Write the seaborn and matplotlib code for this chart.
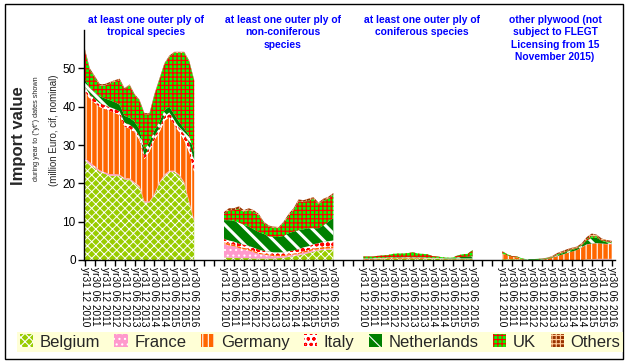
import numpy as np
import matplotlib
matplotlib.use("Agg")
import matplotlib.pyplot as plt
import matplotlib.patches as mpatches
import seaborn as sns

# Import value (million EUR), quarterly readings from Dec 2010 to Jun 2016
countries = ["Belgium", "France", "Germany", "Italy", "Netherlands", "UK", "Others"]
period_labels = ["yr31 12 2010", "yr30 06 2011", "yr31 12 2011", "yr30 06 2012",
                 "yr31 12 2012", "yr30 06 2013", "yr31 12 2013", "yr30 06 2014",
                 "yr31 12 2014", "yr30 06 2015", "yr31 12 2015", "yr30 06 2016"]
group_titles = ["at least one outer ply of\ntropical species",
                "at least one outer ply of\nnon-coniferous\nspecies",
                "at least one outer ply of\nconiferous species",
                "other plywood (not\nsubject to FLEGT\nLicensing from 15\nNovember 2015)"]

# tropical
trop_belgium = [26, 25, 24, 23, 22.5, 22, 22, 22, 21, 21, 20, 19, 15, 15, 17, 20, 22, 23, 23, 22, 20, 15, 10]
trop_france = [0.6, 0.5, 0.5, 0.4, 0.4, 0.4, 0.4, 0.3, 0.3, 0.3, 0.3, 0.3, 0.3, 0.3, 0.3, 0.3, 0.3, 0.3, 0.3, 0.3, 0.3, 0.3, 0.3]
trop_germany = [17.5, 16.5, 16.5, 16.5, 16.5, 16.5, 16, 15.5, 13.5, 13, 13, 12, 11, 13, 14, 13, 14, 14, 12, 11, 11, 12.7, 12.7]
trop_italy = [1.2, 1.2, 1, 1, 1, 1, 1, 1, 1, 1, 1, 1, 1, 1, 1, 1.2, 1.2, 1.2, 1.2, 1.2, 1.5, 2.5, 3]
trop_netherlands = [1.8, 1.8, 1.8, 1.8, 1.8, 1.8, 1.8, 1.8, 1.8, 1.8, 1.8, 1.8, 1.5, 1.5, 1.5, 1.5, 1.5, 1.5, 1.5, 1.5, 1.5, 2, 2]
trop_uk = [7.5, 4.6, 3.8, 2.8, 3.3, 4.3, 5.3, 6.3, 6.9, 8.4, 6.9, 7.4, 9.2, 7.2, 9.2, 11, 12, 13, 16, 18, 19.7, 19.2, 18.7]
trop_others = [0.5, 0.4, 0.4, 0.4, 0.4, 0.4, 0.4, 0.4, 0.3, 0.3, 0.3, 0.3, 0.3, 0.3, 0.3, 0.3, 0.3, 0.3, 0.3, 0.3, 0.3, 0.3, 0.3]

# non-coniferous
nonc_belgium = [0.7, 0.6, 0.6, 0.5, 0.5, 0.5, 0.4, 0.4, 0.4, 0.4, 0.4, 0.5, 0.6, 0.8, 1, 1.2, 1.5, 1.8, 2.2, 2.5, 2.6, 2.7, 2.8]
nonc_france = [3.5, 3.2, 3, 2.6, 2.3, 2, 1.6, 1.2, 1, 0.8, 0.6, 0.5, 0.4, 0.4, 0.4, 0.4, 0.4, 0.4, 0.4, 0.3, 0.3, 0.3, 0.3]
nonc_germany = [0.5, 0.5, 0.4, 0.4, 0.4, 0.4, 0.4, 0.3, 0.3, 0.3, 0.3, 0.3, 0.3, 0.3, 0.3, 0.3, 0.4, 0.4, 0.4, 0.4, 0.5, 0.5, 0.5]
nonc_italy = [0.8, 0.8, 0.8, 0.8, 0.8, 0.8, 0.8, 0.8, 0.7, 0.7, 0.7, 0.7, 0.7, 0.8, 0.8, 0.9, 1, 1, 1.1, 1.2, 1.3, 1.4, 1.5]
nonc_netherlands = [4.9, 5.3, 5.4, 5.5, 5.2, 5, 4.8, 4.6, 4.4, 4, 4, 4, 4.3, 4.7, 4.9, 5, 4.7, 4.7, 4.2, 3.9, 4.3, 5.1, 5.9]
nonc_uk = [1.6, 2.6, 2.8, 3.6, 3.3, 4.3, 4.5, 4.3, 2.9, 2.5, 2.4, 2.3, 3.3, 4.5, 5.6, 7.5, 7.1, 7.2, 7.6, 6.2, 6.5, 6, 6]
nonc_others = [0.5, 0.5, 0.5, 0.6, 0.5, 0.5, 0.5, 0.4, 0.3, 0.3, 0.3, 0.3, 0.4, 0.5, 0.5, 0.5, 0.5, 0.5, 0.5, 0.5, 0.5, 0.5, 0.5]

# coniferous
conif_belgium = [0.1, 0.1, 0.1, 0.2, 0.2, 0.3, 0.3, 0.3, 0.4, 0.4, 0.4, 0.4, 0.3, 0.3, 0.3, 0.3, 0.2, 0.2, 0.2, 0.2, 0.2, 0.2, 0.2]
conif_france = [0] * 23
conif_germany = [0.2, 0.2, 0.2, 0.2, 0.2, 0.2, 0.2, 0.2, 0.2, 0.2, 0.2, 0.2, 0.2, 0.1, 0.1, 0.1, 0.1, 0.1, 0.1, 0.1, 0.1, 0.1, 0.1]
conif_italy = [0.1] * 23
conif_netherlands = [0.1, 0.1, 0.1, 0.1, 0.1, 0.1, 0.1, 0.1, 0.1, 0.1, 0.1, 0.1, 0.1, 0.1, 0.1, 0.1, 0.1, 0.1, 0.1, 0.3, 0.4, 0.5, 0.6]
conif_uk = [0.4, 0.4, 0.4, 0.5, 0.6, 0.6, 0.9, 1, 0.9, 1, 1.2, 0.9, 0.9, 0.9, 0.4, 0.3, 0.2, 0.1, 0.1, 0.5, 0.7, 0.7, 1.6]
conif_others = [0] * 23

# other plywood
other_belgium = [0.2, 0.2, 0.2, 0.2, 0.1, 0, 0, 0, 0, 0, 0, 0, 0, 0, 0, 0, 0, 0.1, 0.1, 0.1, 0.1, 0.1, 0.1]
other_france = [0, 0, 0, 0, 0, 0, 0, 0, 0, 0, 0, 0, 0, 0, 0, 0, 0, 0.1, 0.1, 0.2, 0.2, 0.2, 0.2]
other_germany = [1.5, 1, 0.6, 0.5, 0.1, 0, 0, 0, 0.1, 0.3, 0.6, 1, 1.4, 1.8, 2.2, 2.6, 3.3, 3.8, 4, 4, 3.9, 3.8, 3.8]
other_italy = [0, 0, 0, 0, 0, 0, 0, 0, 0, 0, 0, 0, 0, 0, 0, 0, 0.1, 0.1, 0.1, 0.1, 0.1, 0.1, 0.1]
other_netherlands = [0, 0, 0, 0, 0, 0.2, 0.2, 0.2, 0.1, 0.1, 0.1, 0.3, 0.3, 0.4, 0.4, 0.4, 0.4, 1, 1.5, 1.4, 0.7, 0.4, 0.3]
other_uk = [0.5, 0.3, 0.2, 0.2, 0.2, 0, 0, 0.1, 0.1, 0.1, 0.1, 0.2, 0.2, 0.2, 0.2, 0.2, 0.2, 0.4, 0.4, 0.4, 0.2, 0.2, 0.2]
other_others = [0.1, 0, 0, 0, 0, 0, 0, 0, 0.1, 0.1, 0.2, 0.3, 0.4, 0.4, 0.4, 0.3, 0.4, 0.5, 0.7, 0.4, 0.4, 0.4, 0.3]

groups = [
    [trop_belgium, trop_france, trop_germany, trop_italy, trop_netherlands, trop_uk, trop_others],
    [nonc_belgium, nonc_france, nonc_germany, nonc_italy, nonc_netherlands, nonc_uk, nonc_others],
    [conif_belgium, conif_france, conif_germany, conif_italy, conif_netherlands, conif_uk, conif_others],
    [other_belgium, other_france, other_germany, other_italy, other_netherlands, other_uk, other_others],
]

# fill colour, hatch colour, hatch, hatch width
styles = {
    "Belgium": ("#99CC00", "white", "xxxx", 0.7),
    "France": ("#FF99CC", "white", "...", 0.8),
    "Germany": ("#FF6600", "white", "|||", 0.8),
    "Italy": ("white", "#FF0000", "ooo", 1.2),
    "Netherlands": ("#008000", "white", "\\\\", 2.2),
    "UK": ("#00FF00", "#FF0000", "++++", 0.9),
    "Others": ("#993300", "#FFCC99", "++++", 0.6),
}

sns.set_theme(style="ticks")
plt.rcParams['font.family'] = ['Liberation Sans', 'DejaVu Sans']
plt.rcParams['hatch.linewidth'] = 0.8

W, H = 628, 363
fig = plt.figure(figsize=(W / 100, H / 100), dpi=100)
ax = fig.add_axes([84 / W, 103 / H, 531 / W, 230 / H])

group_len = 84  # categories per group incl. gap
for g, series in enumerate(groups):
    x = g * group_len + 3 * np.arange(23)
    base = np.zeros(23)
    for name, vals in zip(countries, series):
        fc, hc, hatch, hw = styles[name]
        top = base + np.array(vals, dtype=float)
        coll = ax.fill_between(x, base, top, facecolor=fc, edgecolor=hc,
                               hatch=hatch, linewidth=0)
        if hasattr(coll, "set_hatch_linewidth"):
            coll.set_hatch_linewidth(hw)
        base = top

# category axis: ticks every 6 months, labels only inside the groups
tick_pos = np.arange(0, 319, 6)
tick_lab = []
for p in tick_pos:
    r = p % group_len
    tick_lab.append(period_labels[r // 6] if r <= 66 else "")
ax.set_xticks(tick_pos)
ax.set_xticklabels(tick_lab, rotation=-90, fontsize=7.3)
ax.set_xlim(-0.5, 320)
ax.set_ylim(0, 60)
ax.set_yticks([0, 10, 20, 30, 40, 50])
ax.tick_params(axis='y', labelsize=8.5, direction='out', length=4, width=1, pad=2, colors='black')
ax.tick_params(axis='x', direction='out', length=4, width=1, pad=1, colors='black')
sns.despine(ax=ax)
for s in ["left", "bottom"]:
    ax.spines[s].set_color("black")
    ax.spines[s].set_linewidth(1)
ax.grid(False)

# group titles
title_x = [146, 283, 422, 555]
for tx, t in zip(title_x, group_titles):
    fig.text(tx / W, 1 - 15 / H, t, ha='center', va='top', multialignment='center',
             color='#0000FF', fontsize=7.4, fontweight='bold', linespacing=1.3)

# y axis captions
fig.text(18.5 / W, 1 - 136 / H, "Import value", rotation=90, ha='center', va='center',
         fontsize=12, fontweight='bold')
fig.text(37 / W, 1 - 129 / H, 'during year to ("yt") dates shown', rotation=90,
         ha='center', va='center', fontsize=5.2)
fig.text(54 / W, 1 - 130 / H, "(million Euro, cif, nominal)", rotation=90,
         ha='center', va='center', fontsize=7)

# legend
handles = []
for name in countries:
    fc, hc, hatch, hw = styles[name]
    handles.append(mpatches.Patch(facecolor=fc, edgecolor=hc, hatch=hatch, linewidth=0, label=name))
leg = fig.legend(handles=handles, loc='center', ncol=7, mode='expand',
                 bbox_to_anchor=(17 / W, 10 / H, 606 / W, 22 / H), fontsize=12,
                 frameon=True, fancybox=False, handlelength=0.8, handleheight=0.8,
                 handletextpad=0.4, borderaxespad=0, borderpad=0.15, columnspacing=1.0)
leg.get_frame().set_facecolor('#FFFFCC')
leg.get_frame().set_edgecolor('none')

# outer frame
fig.patches.append(mpatches.Rectangle((5 / W, 4 / H), 618 / W, 355 / H, transform=fig.transFigure,
                                      fill=False, edgecolor='black', linewidth=1))

fig.savefig("out.png", dpi=100)
